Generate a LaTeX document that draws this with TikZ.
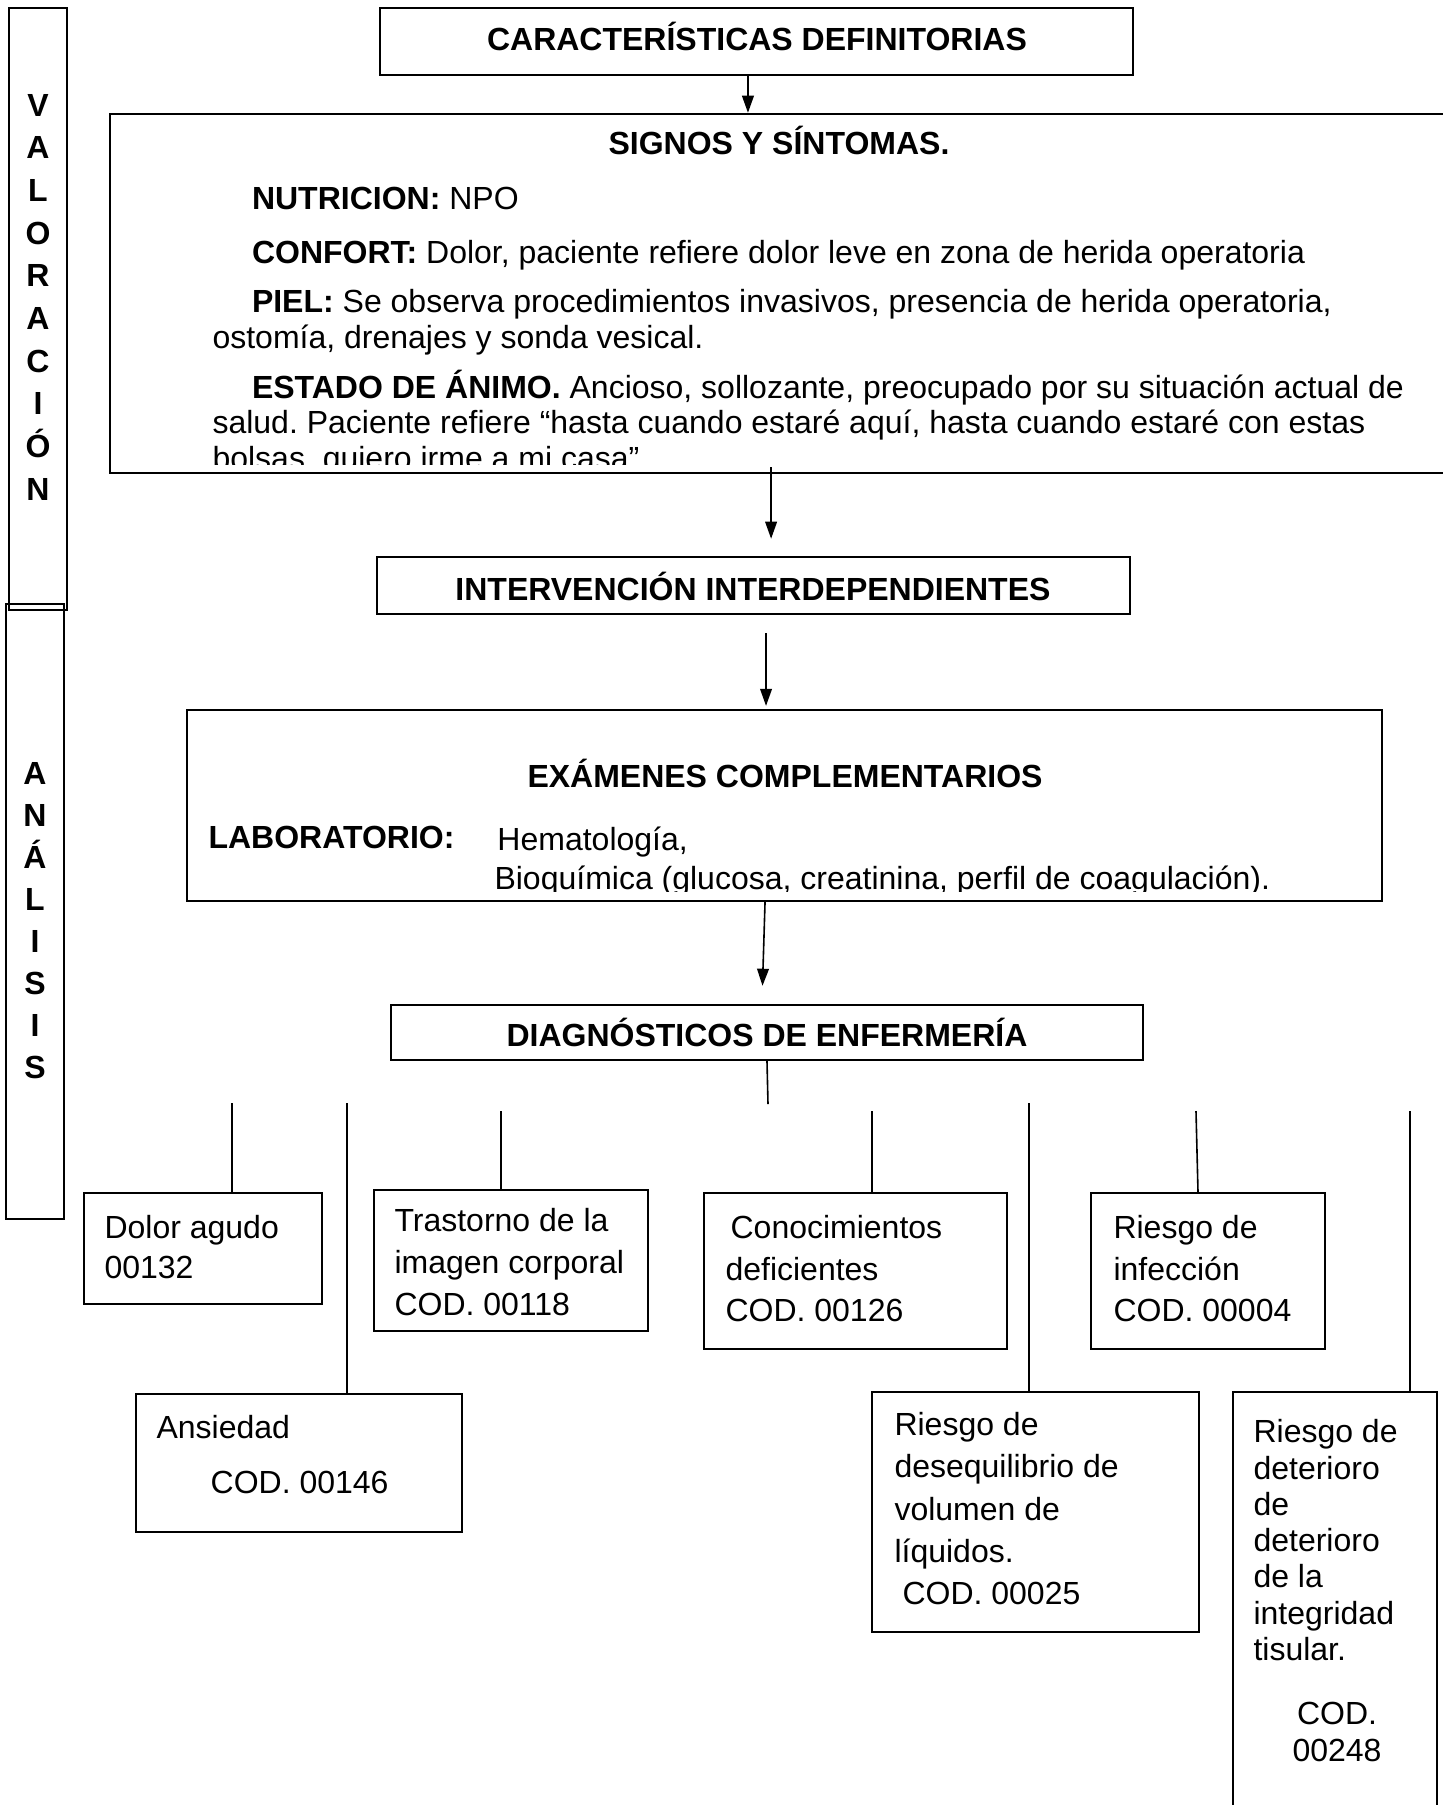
\documentclass[tikz,border=0pt]{standalone}
\usepackage{fontspec}
\setmainfont{Liberation Sans}
\usetikzlibrary{arrows.meta,fit}
\frenchspacing

\tikzset{
  caja/.style={draw, line width=0.9pt, inner sep=0pt},
  titulo/.style={font=\fontsize{12pt}{14pt}\selectfont\bfseries, anchor=base, inner sep=0pt},
  cuerpo/.style={font=\fontsize{12pt}{#1}\selectfont, anchor=north west, align=left, inner sep=0pt},
  letras/.style={font=\fontsize{12pt}{#1}\selectfont\bfseries, align=center, inner sep=0pt},
  flecha/.style={line width=0.6pt, -{Triangle[length=6.4pt,width=4.4pt]}},
  rama/.style={line width=0.6pt}
}

\begin{document}
\begin{tikzpicture}[x=0.375pt, y=-0.375pt]
  \useasboundingbox (0,0) rectangle (1443,1805);
  \clip (0,0) rectangle (1443,1805);

  % Side bands
  \node[caja, fit={(9,8) (67,610)}] (valoracion) {};
  \node[caja, fit={(6,604) (64,1219)}] (analisis) {};
  \node[letras=16pt] (valtxt) at (38,297) {V\\A\\L\\O\\R\\A\\C\\I\\Ó\\N};
  \node[letras=15.75pt] (anatxt) at (35,921) {A\\N\\Á\\L\\I\\S\\I\\S};

  % Main boxes
  \node[caja, fit={(380,8) (1133,75)}] (caract) {};
  \node[caja, fit={(110,114) (1450,473)}] (signos) {};
  \node[caja, fit={(377,557) (1130,614)}] (interv) {};
  \node[caja, fit={(187,710) (1382,901)}] (exam) {};
  \node[caja, fit={(391,1005) (1143,1060)}] (diag) {};

  \node[titulo] (caracttxt) at (757,50) {CARACTERÍSTICAS DEFINITORIAS};
  \node[titulo] (signostxt) at (779,154) {SIGNOS Y SÍNTOMAS.};
  \node[titulo] (intervtxt) at (753,600) {INTERVENCIÓN INTERDEPENDIENTES};
  \node[titulo] (examtxt) at (785,787) {EXÁMENES COMPLEMENTARIOS};
  \node[titulo] (diagtxt) at (767,1046) {DIAGNÓSTICOS DE ENFERMERÍA};

  % Text cut by the box edges
  \begin{scope}
    \clip (signos.north west) rectangle ([yshift=3.7pt]signos.south east);
    \node[cuerpo=13.3pt] (signoscuerpo) at (212,187) {%
      \hspace*{14.8pt}\textbf{NUTRICION:} NPO\\[6.9pt]
      \hspace*{14.8pt}\textbf{CONFORT:} Dolor, paciente refiere dolor leve en zona de herida operatoria\\[5.1pt]
      \hspace*{14.8pt}\textbf{PIEL:} Se observa procedimientos invasivos, presencia de herida operatoria,\\
      ostomía, drenajes y sonda vesical.\\[5.4pt]
      \hspace*{14.8pt}\textbf{ESTADO DE ÁNIMO.} Ancioso, sollozante, preocupado por su situación actual de\\
      salud. Paciente refiere “hasta cuando estaré aquí, hasta cuando estaré con estas\\
      bolsas, quiero irme a mi casa”};
  \end{scope}
  \begin{scope}
    \clip (exam.north west) rectangle ([yshift=4pt]exam.south east);
    \node[cuerpo=14.6pt] (lab) at (208,826) {\textbf{LABORATORIO:}};
    \node[cuerpo=14.6pt] (labcuerpo) at (494,826) {%
      \hspace*{1.1pt}Hematología,\\
      Bioquímica (glucosa, creatinina, perfil de coagulación).};
  \end{scope}

  % Arrows between the boxes
  \draw[flecha] ([xshift=-3.2pt]caract.south) -- ([xshift=-3.2pt]caract.south |- signos.north);
  \draw[flecha, shorten <=-2.6pt, shorten >=6.4pt] ([xshift=6.6pt]interv.north |- signos.south) -- ([xshift=6.6pt]interv.north);
  \draw[flecha, shorten <=6.75pt, shorten >=1.1pt] ([xshift=4.7pt]interv.south) -- ([xshift=4.7pt]interv.south |- exam.north);
  \draw[flecha, shorten >=6.75pt] ([xshift=-7.3pt]exam.south) -- ([xshift=-1.9pt]diag.north);

  % Diagnoses
  \node[caja, fit={(84,1193) (322,1304)}] (dolor) {};
  \node[caja, fit={(374,1190) (648,1331)}] (trastorno) {};
  \node[caja, fit={(704,1193) (1007,1349)}] (conocimientos) {};
  \node[caja, fit={(1091,1193) (1325,1349)}] (infeccion) {};
  \node[caja, fit={(136,1394) (462,1532)}] (ansiedad) {};
  \node[caja, fit={(872,1392) (1199,1632)}] (liquidos) {};
  \node[caja, fit={(1233,1392) (1437,1830)}] (tisular) {};

  \node[cuerpo=15pt] (dolortxt) at (104,1215) {Dolor agudo\\00132};
  \node[cuerpo=15.75pt] (trastornotxt) at (394,1208) {Trastorno de la\\imagen corporal\\COD. 00118};
  \node[cuerpo=15.56pt] (conocimientostxt) at (725,1215) {\hspace*{1.9pt}Conocimientos\\deficientes\\COD. 00126};
  \node[cuerpo=15.56pt] (infecciontxt) at (1113,1215) {Riesgo de\\infección\\COD. 00004};
  \node[cuerpo=20.6pt] (ansiedadtxt) at (156,1415) {Ansiedad\\\hspace*{20.3pt}COD. 00146};
  \node[cuerpo=15.8pt] (liquidostxt) at (894,1412) {Riesgo de\\desequilibrio de\\volumen de\\líquidos.\\\hspace*{3pt}COD. 00025};
  \node[cuerpo=13.6pt] (tisulartxt) at (1253,1419) {Riesgo de\\deterioro\\de\\deterioro\\de la\\integridad\\tisular.};
  \node[cuerpo=13.7pt, anchor=north, align=center] (tisularcod) at (1337,1702) {COD.\\00248};

  % Stem and loose branches
  \coordinate (tallo) at (768,1104);
  \draw[rama] (diag.south) -- (tallo);
  \coordinate (r1) at (232,1103);
  \coordinate (r2) at (347,1103);
  \coordinate (r3) at (501,1111);
  \coordinate (r4) at (872,1111);
  \coordinate (r5) at (1029,1103);
  \coordinate (r6) at (1196,1111);
  \coordinate (r7) at (1410,1111);
  \draw[rama] (r1) -- (r1 |- dolor.north);
  \draw[rama] (r2) -- (r2 |- ansiedad.north);
  \draw[rama] (r3) -- (r3 |- trastorno.north);
  \draw[rama] (r4) -- (r4 |- conocimientos.north);
  \draw[rama] (r5) -- (r5 |- liquidos.north);
  \draw[rama] (r6) -- ([xshift=0.75pt]r6 |- infeccion.north);
  \draw[rama] (r7) -- (r7 |- tisular.north);
\end{tikzpicture}
\end{document}
